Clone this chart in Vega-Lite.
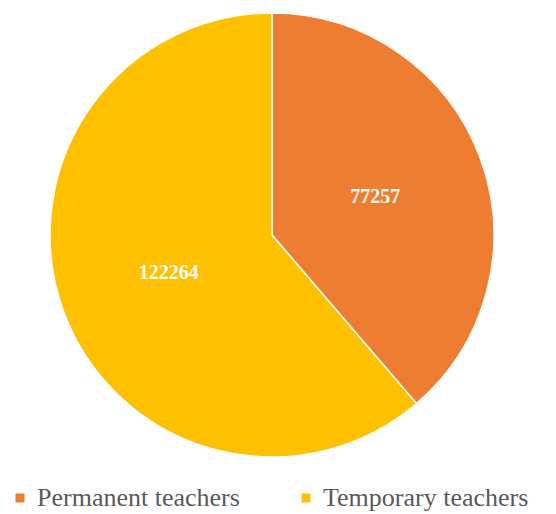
{
  "$schema": "https://vega.github.io/schema/vega-lite/v6.json",
  "width": 544,
  "height": 470,
  "autosize": "none",
  "padding": {"left": 0, "top": 0, "right": 12, "bottom": 44},
  "background": "white",
  "config": {"view": {"stroke": null}, "font": "Liberation Serif",
    "legend": {"labelFont": "Liberation Serif", "labelFontSize": 26, "labelColor": "#595959"}},
  "data": {"values": [
    {"category": "Permanent teachers", "value": 77257, "order": 1},
    {"category": "Temporary teachers", "value": 122264, "order": 2}
  ]},
  "encoding": {
    "theta": {"field": "value", "type": "quantitative", "stack": true},
    "order": {"field": "order", "type": "quantitative"}
  },
  "layer": [
    {"mark": {"type": "arc", "outerRadius": 222, "stroke": "white", "strokeWidth": 1.5},
     "encoding": {
      "color": {
        "field": "category", "type": "nominal",
        "scale": {"domain": ["Permanent teachers", "Temporary teachers"], "range": ["#ED7D31", "#FFC000"]},
        "legend": {
          "title": null, "orient": "none", "direction": "horizontal",
          "legendX": 2, "legendY": 480, "padding": 5,
          "symbolType": "square", "symbolSize": 81, "symbolStrokeWidth": 0,
          "labelFontSize": 26, "labelColor": "#595959", "labelFont": "Liberation Serif",
          "columnPadding": 53, "symbolOffset": 0, "labelOffset": 4, "labelLimit": 300
        }
      }
     }},
    {"mark": {"type": "text", "radius": 110, "fontWeight": "bold", "fontSize": 20, "font": "Liberation Serif"},
     "encoding": {
       "text": {"field": "value", "type": "quantitative", "format": "d"},
       "color": {"value": "white"}
     }}
  ]
}
